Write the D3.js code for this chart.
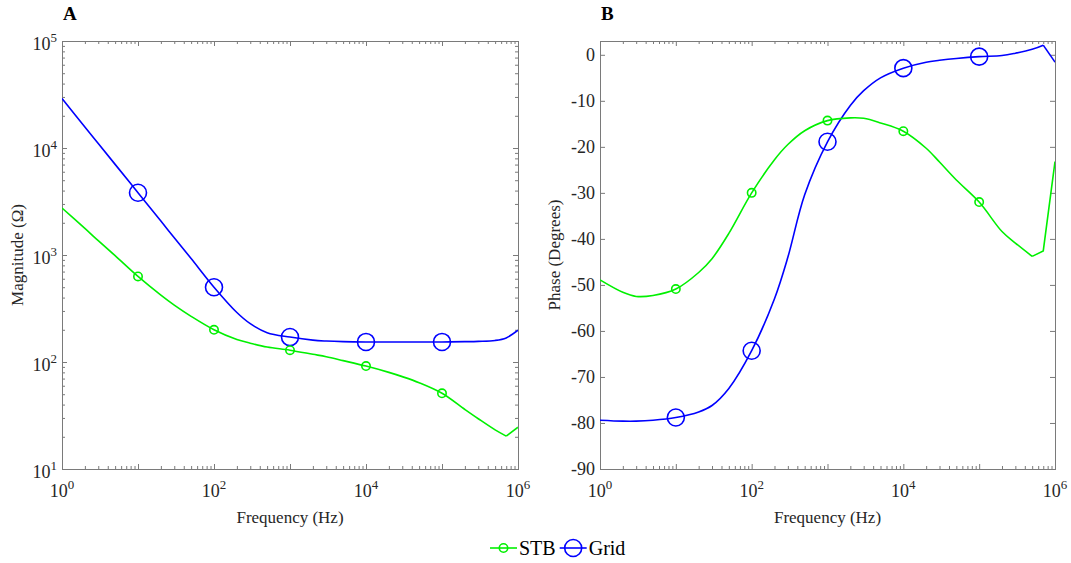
<!DOCTYPE html>
<html>
<head>
<meta charset="utf-8">
<title>Impedance magnitude and phase</title>
<style>
  body { margin: 0; background: #fff; }
</style>
</head>
<body>
<div id="chart"></div>
<script src="https://cdn.jsdelivr.net/npm/d3@7"></script>
<script>
// frequency grid (Hz) shared by all curves
const freq = [1, 2, 3, 5, 10, 20, 30, 50, 100, 200, 300, 500, 1e3, 2e3, 3e3, 5e3,
              1e4, 2e4, 3e4, 5e4, 1e5, 2e5, 3e5, 5e5, 7e5, 1e6];

// magnitude (ohm), panel A
const magSTB  = [2750, 1770, 1360, 985, 630, 421, 340, 267, 200, 162, 150, 138, 129, 118, 112, 103,
                 91.6, 80, 73, 64, 51, 36, 29.5, 23.2, 20.3, 24.6];
const magGrid = [29000, 15740, 11000, 7030, 3820, 2075, 1450, 927, 500, 290, 228, 188, 171, 160, 157, 155,
                 154, 154, 154, 154, 154, 155, 156, 159, 168, 198];

// phase (degrees), panel B
const phSTB  = [-48.9, -51.6, -52.5, -52.3, -50.9, -47.3, -44.3, -38.8, -30, -22.8, -19.5, -16.5, -14.3, -13.7, -13.8, -14.8,
                -16.6, -20.3, -23.3, -27.2, -32, -38.4, -40.9, -43.8, -42.6, -23.2];
const phGrid = [-79.4, -79.6, -79.6, -79.4, -78.8, -77.6, -76.2, -72.5, -64.3, -53, -44, -30.4, -18.9, -11, -7.8, -5,
                -2.9, -1.6, -1.2, -0.8, -0.4, -0.15, 0.35, 1.2, 2.1, -1.6];

// marker frequencies
const markerFreq = [10, 100, 1e3, 1e4, 1e5];

const seriesNames = ["STB", "Grid"];
const seriesColors = { STB: "#00f000", Grid: "#0000ff" };
const markerR = { STB: 4.2, Grid: 8.5 };

const FONT = "'Times New Roman', 'Liberation Serif', 'DejaVu Serif', serif";
const W = 1071, H = 563;
const svg = d3.select("#chart").append("svg").attr("width", W).attr("height", H)
  .attr("font-family", FONT);

const panels = [
  { key: "A", left: 62, right: 518, top: 41, bottom: 469, ylabel: "Magnitude (\u03a9)", ylx: 39,
    y: d3.scaleLog().domain([10, 1e5]), series: { STB: magSTB, Grid: magGrid },
    corner: { STB: 24, Grid: 99 }, yMajors: [10, 100, 1e3, 1e4, 1e5] },
  { key: "B", left: 600, right: 1055, top: 41, bottom: 469, ylabel: "Phase (Degrees)", ylx: 40,
    y: d3.scaleLinear().domain([-90, 3]), series: { STB: phSTB, Grid: phGrid },
    corner: { STB: 23, Grid: 24 }, yMajors: d3.range(-90, 1, 10) }
];

function logMinors(lo, hi) {
  const out = [];
  for (let e = lo; e < hi; e++) for (let k = 2; k <= 9; k++) out.push(k * Math.pow(10, e));
  return out;
}

function powLabel(sel, exp, fs) {
  sel.append("tspan").text("10");
  sel.append("tspan").attr("dy", -fs * 0.42).attr("font-size", fs * 0.72).text(exp);
}

panels.forEach(p => {
  const x = d3.scaleLog().domain([1, 1e6]).range([p.left, p.right]);
  const y = p.y.range([p.bottom, p.top]);
  const g = svg.append("g");
  const xMajors = [1, 10, 100, 1e3, 1e4, 1e5, 1e6];
  const isLog = p.key === "A";

  // ticks (inward, on all four sides)
  const tick = (axis, t, size, vals) =>
    g.append("g").attr("transform", t)
      .call(axis.tickValues(vals).tickSize(-size).tickFormat(""))
      .call(a => a.select(".domain").remove())
      .call(a => a.selectAll("line").attr("stroke", "#7a7a7a"));

  tick(d3.axisBottom(x), `translate(0,${p.bottom})`, 5, xMajors);
  tick(d3.axisTop(x), `translate(0,${p.top})`, 5, xMajors);
  tick(d3.axisBottom(x), `translate(0,${p.bottom})`, 3, logMinors(0, 6));
  tick(d3.axisTop(x), `translate(0,${p.top})`, 3, logMinors(0, 6));
  tick(d3.axisLeft(y), `translate(${p.left},0)`, 5, p.yMajors);
  tick(d3.axisRight(y), `translate(${p.right},0)`, 5, p.yMajors);
  if (isLog) {
    tick(d3.axisLeft(y), `translate(${p.left},0)`, 3, logMinors(1, 5));
    tick(d3.axisRight(y), `translate(${p.right},0)`, 3, logMinors(1, 5));
  }

  g.append("rect")
    .attr("x", p.left + 0.5).attr("y", p.top + 0.5)
    .attr("width", p.right - p.left).attr("height", p.bottom - p.top)
    .attr("fill", "none").attr("stroke", "#7a7a7a").attr("stroke-width", 1);

  // x tick labels
  xMajors.forEach((v, i) => {
    if (i % 2) return;
    const t = g.append("text").attr("x", x(v)).attr("y", p.bottom + 28)
      .attr("text-anchor", "middle").attr("font-size", 18).attr("fill", "#262626");
    powLabel(t, Math.round(Math.log10(v)), 18);
  });

  // y tick labels
  p.yMajors.forEach(v => {
    const t = g.append("text").attr("x", p.left - 5).attr("y", y(v) + 6)
      .attr("text-anchor", "end").attr("font-size", 18).attr("fill", "#262626");
    if (isLog) {
      t.attr("y", y(v) + 9);
      powLabel(t, Math.round(Math.log10(v)), 18);
    } else {
      t.text(v);
    }
  });

  // axis labels
  g.append("text").attr("x", (p.left + p.right) / 2).attr("y", p.bottom + 54)
    .attr("text-anchor", "middle").attr("font-size", 17).attr("fill", "#262626").text("Frequency (Hz)");
  g.append("text")
    .attr("transform", `translate(${p.left - p.ylx},${(p.top + p.bottom) / 2}) rotate(-90)`)
    .attr("text-anchor", "middle").attr("font-size", 17).attr("fill", "#262626").text(p.ylabel);

  // panel letter
  g.append("text").attr("x", p.left + 1).attr("y", 20)
    .attr("font-size", 19).attr("font-weight", "bold").attr("fill", "#000").text(p.key);

  // curves
  const clipId = "clip" + p.key;
  svg.append("clipPath").attr("id", clipId).append("rect")
    .attr("x", p.left).attr("y", p.top).attr("width", p.right - p.left).attr("height", p.bottom - p.top);
  const plot = g.append("g").attr("clip-path", `url(#${clipId})`);

  seriesNames.slice().reverse().forEach(name => {
    const vals = p.series[name];
    const pts = freq.map((f, i) => [f, vals[i]]);
    const c = Math.min(p.corner[name], pts.length - 1);
    const smooth = d3.line().x(d => x(d[0])).y(d => y(d[1])).curve(d3.curveCatmullRom.alpha(0.5));
    const straight = d3.line().x(d => x(d[0])).y(d => y(d[1]));
    plot.append("path").attr("d", smooth(pts.slice(0, c + 1)))
      .attr("fill", "none").attr("stroke", seriesColors[name]).attr("stroke-width", 1.6);
    if (c < pts.length - 1) {
      plot.append("path").attr("d", straight(pts.slice(c)))
        .attr("fill", "none").attr("stroke", seriesColors[name]).attr("stroke-width", 1.6);
    }
    plot.selectAll(null).data(markerFreq).enter().append("circle")
      .attr("cx", f => x(f))
      .attr("cy", f => y(vals[freq.indexOf(f)]))
      .attr("r", markerR[name])
      .attr("fill", "none").attr("stroke", seriesColors[name]).attr("stroke-width", 1.6);
  });
});

// legend
const leg = svg.append("g");
let lx = 490;
seriesNames.forEach(name => {
  leg.append("line").attr("x1", lx).attr("x2", lx + 27).attr("y1", 548).attr("y2", 548)
    .attr("stroke", seriesColors[name]).attr("stroke-width", 1.6);
  leg.append("circle").attr("cx", lx + 13.5).attr("cy", 548).attr("r", markerR[name])
    .attr("fill", "none").attr("stroke", seriesColors[name]).attr("stroke-width", 1.6);
  const t = leg.append("text").attr("x", lx + 29).attr("y", 555).attr("font-size", 20)
    .attr("fill", "#000").text(name);
  lx += 29 + t.node().getComputedTextLength() + 4;
});
</script>
</body>
</html>
